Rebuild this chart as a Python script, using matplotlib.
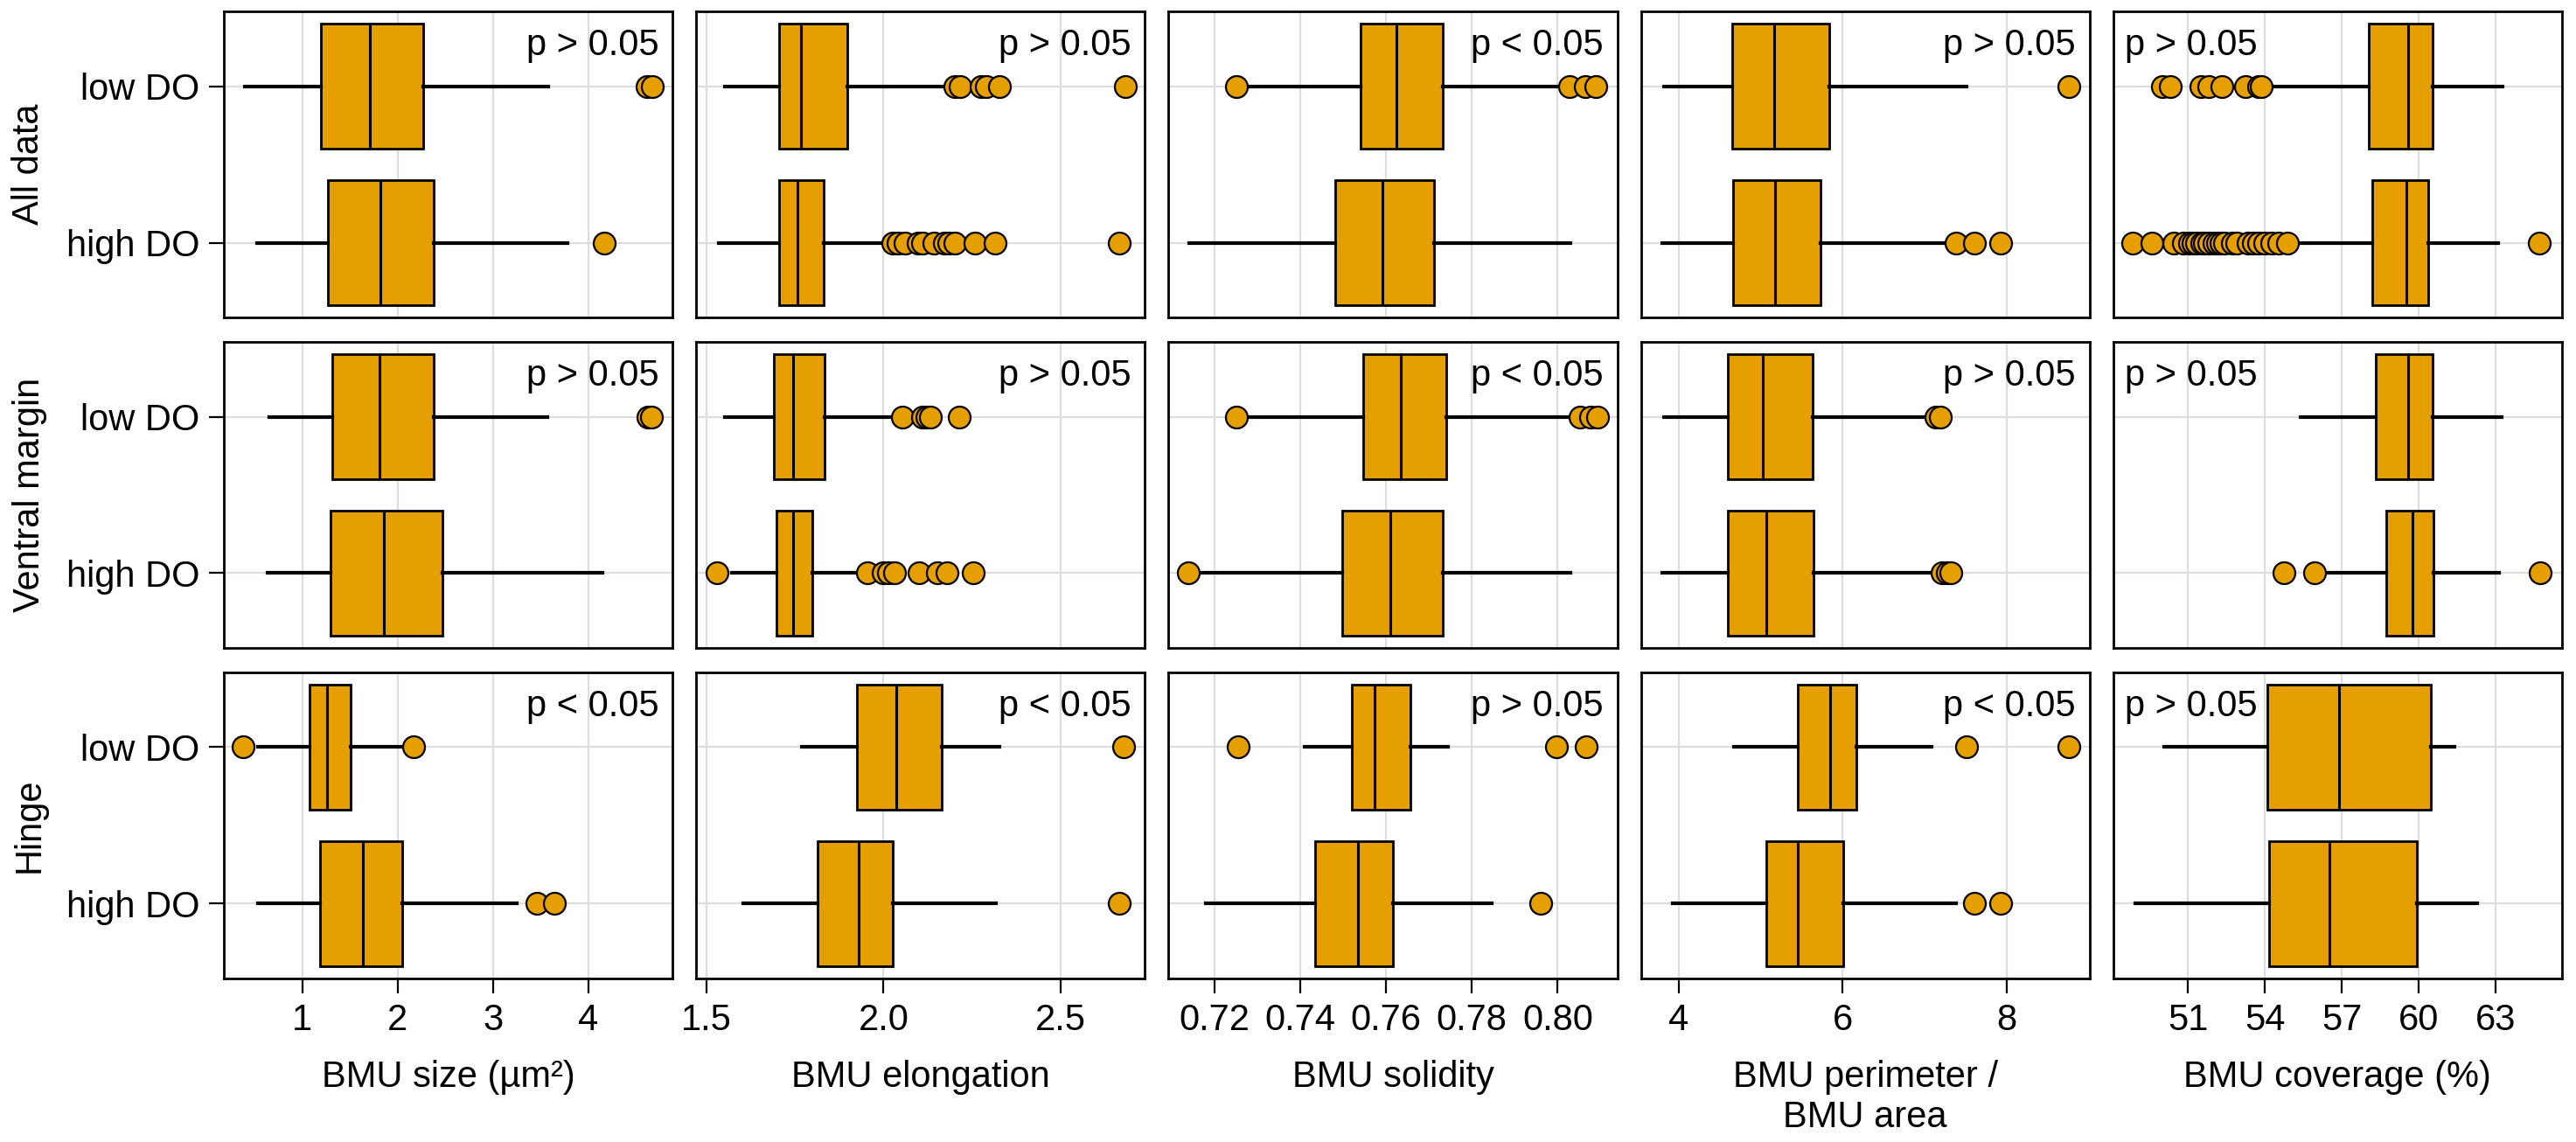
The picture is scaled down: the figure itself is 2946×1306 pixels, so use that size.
import matplotlib
matplotlib.use("Agg")
import matplotlib.pyplot as plt

plt.rcParams['font.family'] = ['Liberation Sans', 'DejaVu Sans']

rows = ["All data", "Ventral margin", "Hinge"]
groups = ["low DO", "high DO"]
xlabels = ["BMU size (µm²)", "BMU elongation", "BMU solidity",
           "BMU perimeter /\nBMU area", "BMU coverage (%)"]

# five-number summaries [whislo, q1, med, q3, whishi]
# order: All low, All high, Ventral low, Ventral high, Hinge low, Hinge high
size_box = [[0.40, 1.195, 1.71, 2.27, 3.58], [0.53, 1.27, 1.82, 2.38, 3.78],
            [0.66, 1.32, 1.81, 2.38, 3.57], [0.64, 1.30, 1.86, 2.47, 4.15],
            [0.54, 1.08, 1.26, 1.51, 2.13], [0.54, 1.19, 1.64, 2.05, 3.25]]
size_out = [[4.61, 4.67], [4.16], [4.62, 4.66], [], [0.38, 2.17], [3.46, 3.64]]

elong_box = [[1.552, 1.706, 1.767, 1.899, 2.175], [1.535, 1.706, 1.758, 1.832, 2.019],
             [1.552, 1.691, 1.746, 1.835, 2.023], [1.573, 1.698, 1.746, 1.80, 1.946],
             [1.769, 1.926, 2.036, 2.164, 2.328], [1.604, 1.814, 1.930, 2.027, 2.318]]
elong_out = [[2.20, 2.217, 2.274, 2.29, 2.328, 2.681],
             [2.027, 2.04, 2.06, 2.097, 2.11, 2.142, 2.171, 2.183, 2.2, 2.258, 2.315, 2.665],
             [2.053, 2.11, 2.122, 2.131, 2.214],
             [1.530, 1.954, 1.998, 2.015, 2.032, 2.101, 2.153, 2.179, 2.254],
             [2.678], [2.664]]

solid_box = [[0.7269, 0.7541, 0.7624, 0.7732, 0.8007], [0.7142, 0.7481, 0.7591, 0.7711, 0.8029],
             [0.7269, 0.7546, 0.7634, 0.7741, 0.8036], [0.7162, 0.7498, 0.7609, 0.7732, 0.8030],
             [0.7410, 0.7520, 0.7574, 0.7656, 0.7745], [0.7179, 0.7434, 0.7534, 0.7616, 0.7847]]
solid_out = [[0.7252, 0.8028, 0.8064, 0.8089], [], [0.7252, 0.8053, 0.8076, 0.8093],
             [0.714], [0.7255, 0.7997, 0.8066], [0.7961]]

perim_box = [[3.82, 4.65, 5.16, 5.84, 7.51], [3.80, 4.66, 5.18, 5.73, 7.33],
             [3.82, 4.60, 5.03, 5.63, 7.10], [3.80, 4.60, 5.07, 5.64, 7.18],
             [4.67, 5.45, 5.85, 6.17, 7.08], [3.93, 5.07, 5.45, 6.01, 7.38]]
perim_out = [[8.76], [7.38, 7.60, 7.92], [7.14, 7.19], [7.21, 7.27, 7.32],
             [7.51, 8.76], [7.60, 7.92]]

cover_box = [[54.30, 58.05, 59.57, 60.55, 63.26], [55.18, 58.2, 59.5, 60.36, 63.1],
             [55.40, 58.31, 59.58, 60.53, 63.25], [56.29, 58.72, 59.74, 60.56, 63.13],
             [50.05, 54.10, 56.89, 60.46, 61.41], [48.93, 54.15, 56.53, 59.91, 62.27]]
cover_out = [[49.99, 50.31, 51.51, 51.80, 52.32, 53.23, 53.75, 53.86],
             [48.85, 49.60, 50.45, 50.83, 51.05, 51.2, 51.34, 51.52, 51.65, 51.80, 52.0,
              52.14, 52.3, 52.43, 52.72, 52.9, 53.35, 53.55, 53.75, 53.98, 54.26, 54.55,
              54.89, 64.7],
             [], [54.74, 55.93, 64.75], [], []]

pvals = [["p > 0.05", "p > 0.05", "p < 0.05"],
         ["p > 0.05", "p > 0.05", "p < 0.05"],
         ["p < 0.05", "p < 0.05", "p > 0.05"],
         ["p > 0.05", "p > 0.05", "p < 0.05"],
         ["p > 0.05", "p > 0.05", "p > 0.05"]]

boxes = [size_box, elong_box, solid_box, perim_box, cover_box]
outs = [size_out, elong_out, solid_out, perim_out, cover_out]
xlims = [(0.18, 4.88), (1.472, 2.737), (0.7093, 0.8139), (3.54, 9.01), (48.08, 65.59)]
xticks = [[1, 2, 3, 4], [1.5, 2.0, 2.5], [0.72, 0.74, 0.76, 0.78, 0.80], [4, 6, 8],
          [51, 54, 57, 60, 63]]
xtick_fmt = ["{:g}", "{:.1f}", "{:.2f}", "{:g}", "{:g}"]

orange = "#E69F00"
fs = 15

fig, axes = plt.subplots(3, 5, figsize=(14.73, 6.53), dpi=200, sharey=True)
fig.subplots_adjust(left=256 / 2946, right=2930 / 2946, top=1 - 13 / 1306,
                    bottom=1 - 1119 / 1306, wspace=0.0526, hspace=0.0785)

for c in range(5):
    for r in range(3):
        ax = axes[r, c]
        stats = []
        for g in range(2):
            b = boxes[c][2 * r + g]
            stats.append(dict(whislo=b[0], q1=b[1], med=b[2], q3=b[3], whishi=b[4],
                              fliers=outs[c][2 * r + g]))
        ax.set_axisbelow(True)
        ax.grid(True, color="#dddddd", linewidth=0.8)
        ax.bxp(stats, positions=[0, 1], widths=0.8, orientation='horizontal',
               patch_artist=True, showcaps=False, manage_ticks=False,
               boxprops=dict(facecolor=orange, edgecolor="black", linewidth=1.0),
               medianprops=dict(color="black", linewidth=1.1),
               whiskerprops=dict(color="black", linewidth=1.5),
               flierprops=dict(marker="o", markerfacecolor=orange, markeredgecolor="black",
                               markersize=9, markeredgewidth=0.8))
        ax.set_xlim(*xlims[c])
        ax.set_ylim(1.48, -0.48)
        ax.set_yticks([0, 1])
        ax.set_xticks(xticks[c])
        ax.set_xticklabels([xtick_fmt[c].format(t) for t in xticks[c]])
        for s in ax.spines.values():
            s.set_linewidth(1.0)
        ax.tick_params(axis="both", labelsize=fs, length=6, width=0.8, pad=4)
        if r < 2:
            ax.tick_params(axis="x", bottom=False, labelbottom=False)
        else:
            ax.set_xlabel(xlabels[c], fontsize=fs, labelpad=9)
        if c > 0:
            ax.tick_params(axis="y", left=False, labelleft=False)
        else:
            ax.set_yticklabels(groups)
            ax.set_ylabel(rows[r], fontsize=fs, labelpad=8)
        if c == 4:
            ax.text(0.026, 0.945, pvals[c][r], transform=ax.transAxes, ha="left", va="top",
                    fontsize=fs)
        else:
            ax.text(0.969, 0.945, pvals[c][r], transform=ax.transAxes, ha="right", va="top",
                    fontsize=fs)

fig.savefig("out.png", dpi=200)
